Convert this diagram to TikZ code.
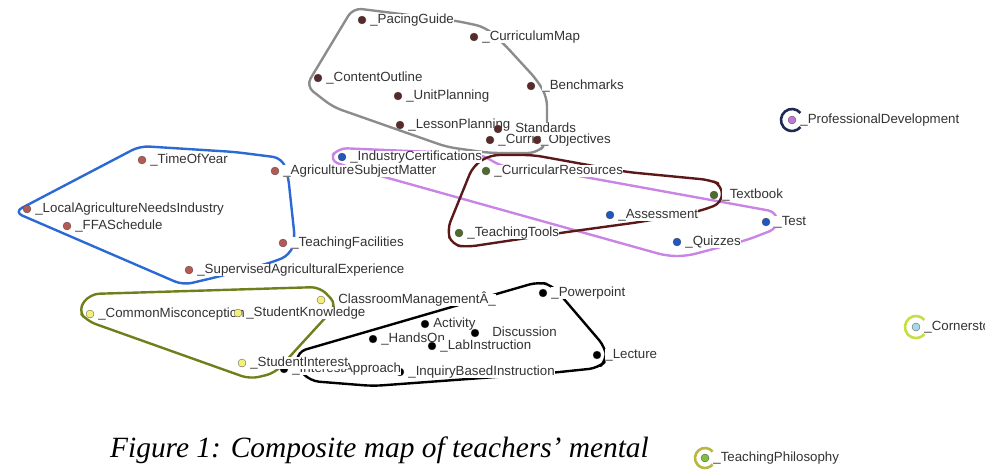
\documentclass[tikz,border=0pt]{standalone}
\usepackage{fontspec}
\newfontfamily\mapfont{Liberation Sans}
\newfontfamily\capfont{Liberation Serif}
\usepackage{tikz}
\usetikzlibrary{positioning}
\definecolor{mapBrown}{HTML}{5A2A2A}
\definecolor{mapRed}{HTML}{B45A55}
\definecolor{mapBlue}{HTML}{2456C0}
\definecolor{mapGreen}{HTML}{4F6B2C}
\definecolor{mapYellow}{HTML}{F2F07A}
\definecolor{mapPurple}{HTML}{C078D8}
\definecolor{mapCyan}{HTML}{A8D8E8}
\definecolor{mapLeaf}{HTML}{80C040}
\definecolor{hullGray}{HTML}{8C8C8C}
\definecolor{hullBlue}{HTML}{2B6AD4}
\definecolor{hullViolet}{HTML}{C985E6}
\definecolor{hullMaroon}{HTML}{5C1818}
\definecolor{hullOlive}{HTML}{6E7F1C}
\definecolor{hullNavy}{HTML}{1E2A55}
\definecolor{hullLime}{HTML}{C4E040}
\definecolor{hullStraw}{HTML}{B8B840}

\begin{document}
\begin{tikzpicture}[x=1pt, y=-1pt,
    pt/.style={circle, draw=black!70, line width=0.3pt, fill=#1, inner sep=0pt, minimum size=8pt},
    lbl/.style={fill=white, inner sep=0pt, text=black!80, text height=9.6pt, text depth=2.8pt,
      font=\mapfont\fontsize{13.3}{15}\selectfont},
    every label/.style={lbl}, label distance=4pt,
    hull/.style={line width=2.4pt, rounded corners=9pt, line join=round},
    ring/.style={line width=2.6pt}]
  \useasboundingbox (0,0) rectangle (985,471);
  \clip (0,0) rectangle (985,471);

  % cluster outlines
  \draw[hull, hullGray] (353,8) -- (457,21) -- (485,27) -- (503,43) -- (537,80) -- (547,97)
    -- (547,143) -- (537,153) -- (490,153) -- (447,147) -- (333,107) -- (306,86) -- cycle;
  \draw[hull, hullBlue] (140,146) -- (235,152) -- (282,158) -- (288,175) -- (295,240) -- (290,255)
    -- (273,262) -- (217,277) -- (183,285) -- (14,212) -- cycle;
  \draw[hull, hullViolet] (345,166) -- (329,160) -- (338,148) -- (480,154) -- (503,167) -- (557,172)
    -- (777,212) -- (778,228) -- (747,240) -- (687,256) -- (667,256) -- cycle;
  \draw[hull, hullMaroon] (533,155) -- (490,155) -- (473,166) -- (447,230) -- (452,245) -- (467,247)
    -- (567,232) -- (640,222) -- (700,211) -- (722,203) -- (722,185) -- (710,180) -- (627,172) -- cycle;
  \draw[hull, hullOlive] (90,294) -- (320,287) -- (337,305) -- (293,353) -- (275,373) -- (250,379)
    -- (87,321) -- (78,310) -- cycle;
  \draw[hull, black] (297,352) -- (493,295) -- (538,282) -- (552,285) -- (605,347) -- (607,360)
    -- (598,368) -- (550,373) -- (373,386) -- (310,381) -- (297,367) -- cycle;

  % planning
  \node[pt=mapBrown, label=right:\_PacingGuide] (pacing) at (362,20) {};
  \node[pt=mapBrown, label=right:\_CurriculumMap] (currmap) at (474,37) {};
  \node[pt=mapBrown, label=right:\_ContentOutline] (content) at (318,78) {};
  \node[pt=mapBrown, label=right:\_UnitPlanning] (unit) at (398,96) {};
  \node[pt=mapBrown, label={[label distance=7pt]right:\_Benchmarks}] (bench) at (531,86) {};
  \node[pt=mapBrown, label=right:\_LessonPlanning] (lesson) at (400,125) {};
  \node[pt=mapBrown, label=right:\_Curric\_Objectives] (objectives) at (490,140) {};
  \node[pt=mapBrown, label={[label distance=13pt]right:Standards}] (standards) at (498,129) {};
  \node[pt=mapBrown] (objextra) at (537,140) {};

  % agriculture context
  \node[pt=mapRed, label=right:\_TimeOfYear] (time) at (142,160) {};
  \node[pt=mapRed, label=right:\_AgricultureSubjectMatter] (agsubject) at (275,171) {};
  \node[pt=mapRed, label=right:\_LocalAgricultureNeedsIndustry] (localneeds) at (27,209) {};
  \node[pt=mapRed, label=right:\_FFASchedule] (ffa) at (67,226) {};
  \node[pt=mapRed, label=right:\_TeachingFacilities] (facilities) at (283,243) {};
  \node[pt=mapRed, label=right:\_SupervisedAgriculturalExperience] (sae) at (189,270) {};

  % assessment and resources
  \node[pt=mapBlue, label=right:\_IndustryCertifications] (indcert) at (342,157) {};
  \node[pt=mapGreen, label=right:\_CurricularResources] (curres) at (486,171) {};
  \node[pt=mapGreen, label=right:\_Textbook] (textbook) at (714,195) {};
  \node[pt=mapBlue, label=right:\_Assessment] (assess) at (610,215) {};
  \node[pt=mapBlue, label=right:\_Test] (test) at (766,222) {};
  \node[pt=mapGreen, label=right:\_TeachingTools] (tools) at (459,233) {};
  \node[pt=mapBlue, label=right:\_Quizzes] (quizzes) at (677,242) {};

  % instruction
  \node[pt=black, label=right:\_Powerpoint] (powerpoint) at (543,293) {};
  \node[pt=black, label=right:\_HandsOn] (handson) at (373,339) {};
  \node[pt=black, label=right:Activity] (activity) at (425,324) {};
  \node[pt=black, label={[label distance=13pt]right:Discussion}] (discussion) at (475,333) {};
  \node[pt=black, label=right:\_LabInstruction] (labinstr) at (432,346) {};
  \node[pt=black, label=right:\_InquiryBasedInstruction] (inquiry) at (400,372) {};
  \node[pt=black, label=right:\_InterestApproach] (interestapp) at (284,369) {};
  \node[pt=black, label=right:\_Lecture] (lecture) at (597,355) {};

  % students
  \node[pt=mapYellow, label={[label distance=13pt]right:ClassroomManagementÂ\_}] (classroom) at (321,300) {};
  \node[pt=mapYellow, label=right:\_CommonMisconception] (misconception) at (90,314) {};
  \node[pt=mapYellow, label=right:\_StudentKnowledge] (knowledge) at (238,313) {};
  \node[pt=mapYellow, label=right:\_StudentInterest] (interest) at (242,363) {};

  % single concepts
  \node[pt=mapPurple, label=right:\_ProfessionalDevelopment] (profdev) at (792,120) {};
  \draw[ring, hullNavy] ([shift={(40:11pt)}]profdev.center) arc[start angle=40, end angle=320, radius=11pt];
  \node[pt=mapCyan, label=right:\_Cornerstone] (cornerstone) at (916,327) {};
  \draw[ring, hullLime] ([shift={(40:11pt)}]cornerstone.center) arc[start angle=40, end angle=320, radius=11pt];
  \node[pt=mapLeaf, label=right:\_TeachingPhilosophy] (philosophy) at (705,458) {};
  \draw[ring, hullStraw] ([shift={(40:10pt)}]philosophy.center) arc[start angle=40, end angle=320, radius=10pt];

  \node[anchor=base west, inner sep=0pt, font=\capfont\itshape\fontsize{29.4}{32}\selectfont]
    (caption) at (110,457) {Figure 1: Composite map of teachers’ mental};
\end{tikzpicture}
\end{document}
